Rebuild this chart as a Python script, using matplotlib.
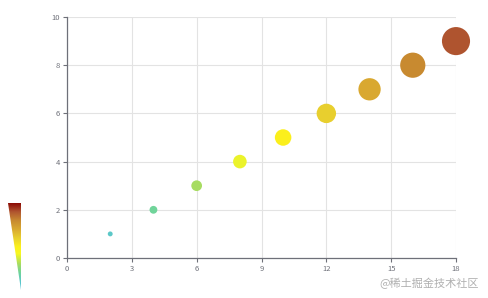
import matplotlib
matplotlib.use("Agg")
import matplotlib.pyplot as plt
import numpy as np
from matplotlib.colors import LinearSegmentedColormap
from matplotlib.patches import Polygon

plt.rcParams['font.family'] = ['Noto Sans CJK SC', 'DejaVu Sans']

x_vals = [2, 4, 6, 8, 10, 12, 14, 16, 18]
y_vals = [1, 2, 3, 4, 5, 6, 7, 8, 9]
x_ticks = [0, 3, 6, 9, 12, 15, 18]
y_ticks = [0, 2, 4, 6, 8, 10]
vmin, vmax = 0, 10

cmap = LinearSegmentedColormap.from_list('vm', [
    (0.0, '#48c0d8'),
    (0.1, '#5cc8c8'),
    (0.2, '#70d49a'),
    (0.3, '#a8dc60'),
    (0.42, '#f8f820'),
    (0.5, '#fbf01c'),
    (0.6, '#e8cf2e'),
    (0.7, '#d9a930'),
    (0.8, '#c88a30'),
    (0.9, '#b05530'),
    (1.0, '#8b0a05'),
])

W, H = 489, 298
fig = plt.figure(figsize=(W / 100, H / 100), dpi=100)
ax = fig.add_axes([67 / W, (H - 258) / H, (456 - 67) / W, (258 - 17) / H])

axis_c = '#6e7079'
grid_c = '#e3e3e3'

def diam(v):
    return 2 + 2.9 * v

sizes = [(diam(v) * 0.72) ** 2 for v in y_vals]
colors = [cmap((v - vmin) / (vmax - vmin)) for v in y_vals]
ax.scatter(x_vals, y_vals, s=sizes, c=colors, linewidths=0, zorder=3, clip_on=False)

ax.set_xlim(0, 18)
ax.set_ylim(0, 10)
ax.set_xticks(x_ticks)
ax.set_yticks(y_ticks)
ax.grid(True, color=grid_c, linewidth=0.8, zorder=0)
for s in ['top', 'right']:
    ax.spines[s].set_visible(False)
for s in ['left', 'bottom']:
    ax.spines[s].set_color(axis_c)
    ax.spines[s].set_linewidth(0.9)
ax.tick_params(axis='both', colors=axis_c, labelsize=5.5, length=3, width=0.8, pad=2)

# visual map triangle
vax = fig.add_axes([0, 0, 1, 1], zorder=-1)
vax.set_xlim(0, W)
vax.set_ylim(H, 0)
vax.axis('off')
grad = np.linspace(1, 0, 256).reshape(-1, 1)
im = vax.imshow(grad, cmap=cmap, extent=[8, 21, 290, 203], aspect='auto', origin='upper')
tri = Polygon([[8, 203], [21, 203], [21, 290]], closed=True, transform=vax.transData)
im.set_clip_path(tri)

fig.text(479 / W, (H - 283) / H, '@稀土掘金技术社区', ha='right', va='center',
         fontsize=8, color='#b0b0b0')

fig.savefig('out.png', dpi=100)
